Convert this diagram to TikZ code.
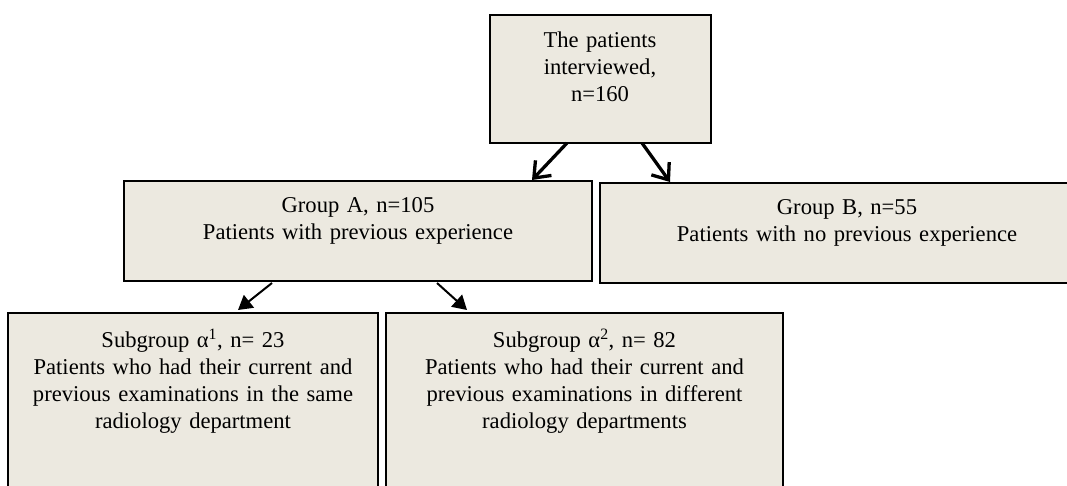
\documentclass[tikz,border=0pt]{standalone}
\usepackage{fontspec}
\setmainfont{Liberation Serif}
\usetikzlibrary{arrows.meta,calc}
\definecolor{boxfill}{RGB}{236,233,224}
\begin{document}
\begin{tikzpicture}[x=1pt,y=-1pt,
  box/.style={draw=black, line width=1.8pt, fill=boxfill, rectangle,
    inner sep=0pt, outer sep=0pt, anchor=north west},
  txt/.style={font=\fontsize{22.6}{27}\selectfont, text width=400pt,
    align=center, inner sep=0pt, anchor=base},
  bigarrow/.style={line width=3.3pt,
    -{Straight Barb[length=14pt,width=22pt,line width=3.3pt]}},
  smallarrow/.style={line width=2pt, -{Triangle[length=14pt,width=16pt]}}]
\useasboundingbox (0,0) rectangle (1067,486);
\clip (0,0) rectangle (1067,486);

% boxes
\node[box, minimum width=221pt, minimum height=128pt] (top) at (490,15) {};
\node[box, minimum width=468pt, minimum height=100pt] (grpA) at (124,181) {};
\node[box, minimum width=494pt, minimum height=100pt] (grpB) at (600,183) {};
\node[box, minimum width=370pt, minimum height=200pt] (subA) at (8,313) {};
\node[box, minimum width=397pt, minimum height=200pt] (subB) at (386,313) {};

% labels
\node[txt] (topT) at (600,48) {The patients\\interviewed,\\n=160};
\node[txt] (grpAT) at (358,213) {Group A, n=105\\Patients with previous experience};
\node[txt] (grpBT) at (847,215) {Group B, n=55\\Patients with no previous experience};
\node[txt] (subAT) at (193,347) {Subgroup α\textsuperscript{1}, n= 23\\Patients who had their current and\\previous examinations in the same\\radiology department};
\node[txt] (subBT) at (584.5,347) {Subgroup α\textsuperscript{2}, n= 82\\Patients who had their current and\\previous examinations in different\\radiology departments};

% connectors
\draw[bigarrow] ($(top.south west)+(77,0)$) -- ($(grpA.north west)+(408,-1)$);
\draw[bigarrow] ($(top.south west)+(152,0)$) -- ($(grpB.north west)+(70,-1)$);
\draw[smallarrow] ($(grpA.south west)+(148,2)$) -- ($(subA.north west)+(230,-3)$);
\draw[smallarrow] ($(grpA.south west)+(313,2)$) -- ($(subB.north west)+(81,-3)$);
\end{tikzpicture}
\end{document}
